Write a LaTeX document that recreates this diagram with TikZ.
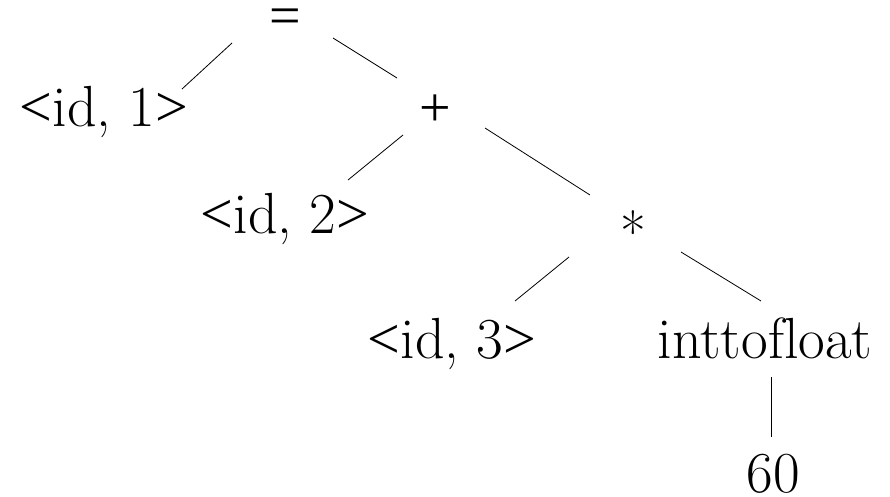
\documentclass[tikz,border=0pt]{standalone}
\usepackage{fontspec}
\setmainfont{Latin Modern Roman}[Ligatures=NoCommon]
\newfontfamily\symf{Liberation Serif}
\newcommand{\lb}{{\symf <}}
\newcommand{\rb}{{\symf >}}
\tikzset{
  lbl/.style={inner sep=0pt, outer sep=0pt, font=\fontsize{58}{62}\selectfont, anchor=base},
  sym/.style={inner sep=0pt, outer sep=0pt, font=\fontsize{56}{60}\selectfont, anchor=center},
  edge/.style={line width=0.8pt, black}
}
\begin{document}
\begin{tikzpicture}[x=1pt,y=-1pt]
\useasboundingbox (0,0) rectangle (890,496);
\node[sym] (eq) at (285,22) {\symf =};
\node[lbl] (id1) at (104,126) {\lb id, 1\rb};
\node[sym] (plus) at (435,111) {\symf +};
\node[lbl] (id2) at (285,233) {\lb id, 2\rb};
\node[sym] (mul) at (633,232) {*};
\node[lbl] (id3) at (452,358) {\lb id, 3\rb};
\node[lbl] (itf) at (765,358) {inttofloat};
\node[lbl] (sixty) at (773,492) {60};
\coordinate (a1) at (232,43); \coordinate (a2) at (182,89);
\coordinate (b1) at (333,38); \coordinate (b2) at (397,78);
\coordinate (c1) at (403,135); \coordinate (c2) at (348,180);
\coordinate (d1) at (485,128); \coordinate (d2) at (590,195);
\coordinate (e1) at (569,257); \coordinate (e2) at (515,301);
\coordinate (f1) at (681,252); \coordinate (f2) at (761,301);
\coordinate (g1) at (771,377); \coordinate (g2) at (771,437);
\draw[edge] (a1) -- (a2);
\draw[edge] (b1) -- (b2);
\draw[edge] (c1) -- (c2);
\draw[edge] (d1) -- (d2);
\draw[edge] (e1) -- (e2);
\draw[edge] (f1) -- (f2);
\draw[edge] (g1) -- (g2);
\end{tikzpicture}
\end{document}
